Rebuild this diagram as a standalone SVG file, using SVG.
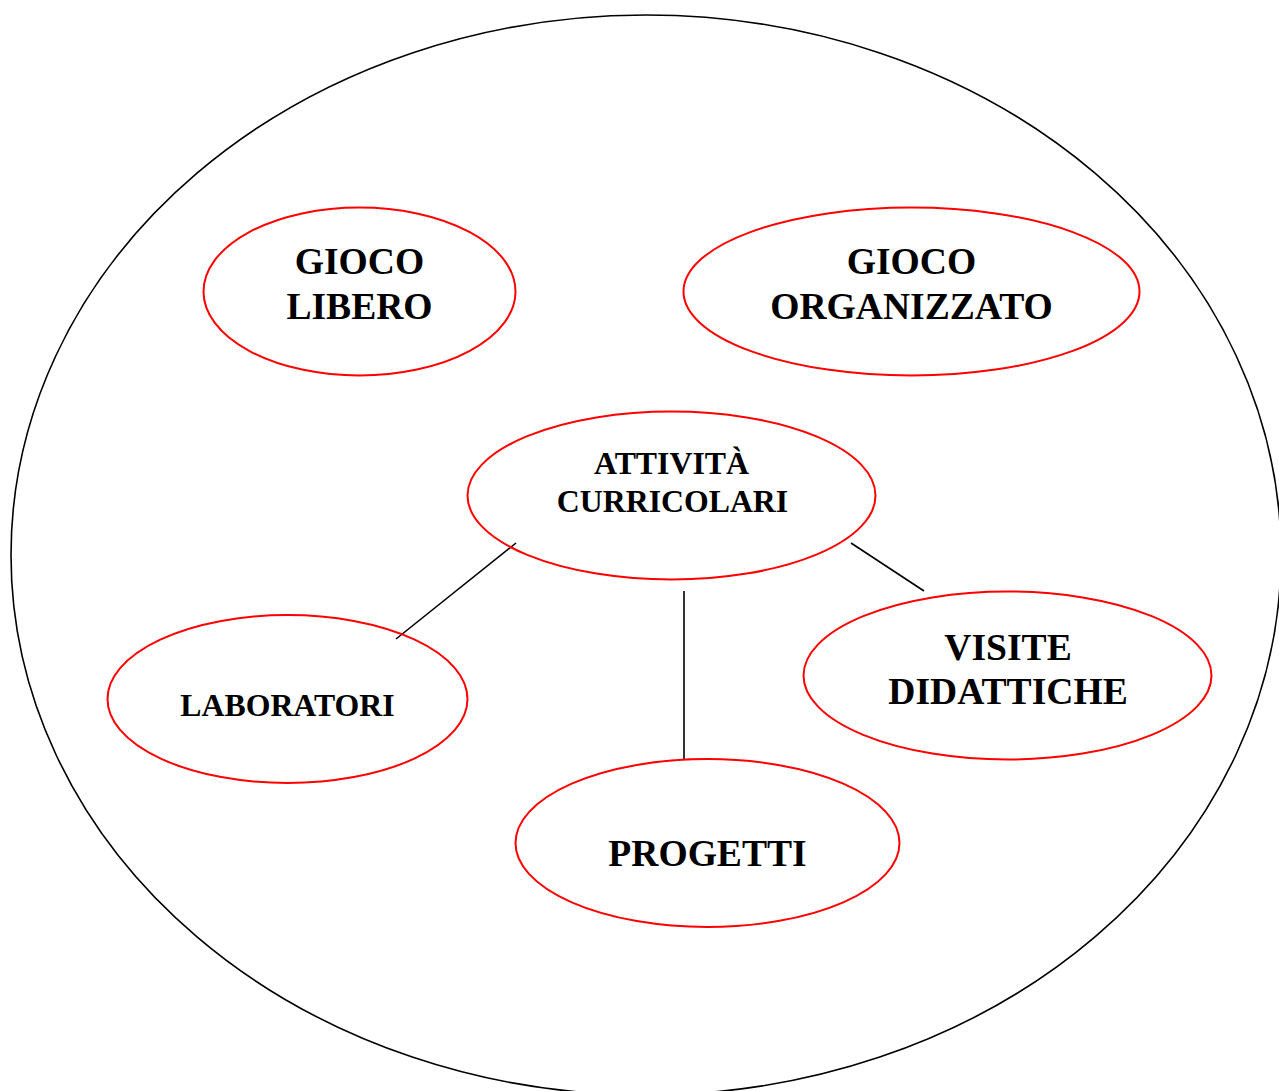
<svg xmlns="http://www.w3.org/2000/svg" width="1279" height="1091" viewBox="0 0 1279 1091">
<style>
.node{fill:none;stroke:#ff0000;stroke-width:2}
.big{font-family:"Liberation Serif","Times New Roman",serif;font-weight:bold;font-size:37.6px;text-anchor:middle;fill:#000}
.small{font-family:"Liberation Serif","Times New Roman",serif;font-weight:bold;font-size:31.8px;text-anchor:middle;fill:#000}
.conn line{stroke:#000;stroke-width:1.6}
</style>
<rect width="1279" height="1091" fill="#fff"/>
<ellipse id="outer" cx="646" cy="555" rx="635" ry="540" fill="none" stroke="#000" stroke-width="1.6"/>
<g class="conn" id="connectors">
<line x1="516" y1="543" x2="396" y2="639"/>
<line x1="684" y1="591" x2="684" y2="760"/>
<line x1="851" y1="543" x2="924" y2="591"/>
</g>
<g id="gioco-libero">
<ellipse class="node" cx="359.5" cy="291.5" rx="156" ry="84"/>
<text class="big" x="359.5" y="274">GIOCO</text>
<text class="big" x="359.5" y="319">LIBERO</text>
</g>
<g id="gioco-organizzato">
<ellipse class="node" cx="911.5" cy="291.5" rx="228" ry="84"/>
<text class="big" x="911.5" y="274">GIOCO</text>
<text class="big" x="911.5" y="319">ORGANIZZATO</text>
</g>
<g id="attivita">
<ellipse class="node" cx="671.5" cy="495.5" rx="204" ry="84"/>
<text class="small" x="671.5" y="474">ATTIVITÀ</text>
<text class="small" x="672.5" y="512">CURRICOLARI</text>
</g>
<g id="laboratori">
<ellipse class="node" cx="287.5" cy="699" rx="180" ry="84"/>
<text class="small" x="287.5" y="716">LABORATORI</text>
</g>
<g id="visite">
<ellipse class="node" cx="1007.5" cy="675.5" rx="204" ry="84"/>
<text class="big" x="1008" y="660">VISITE</text>
<text class="big" x="1008" y="704">DIDATTICHE</text>
</g>
<g id="progetti">
<ellipse class="node" cx="707.5" cy="843" rx="192" ry="84"/>
<text class="big" x="707.5" y="866">PROGETTI</text>
</g>
</svg>
